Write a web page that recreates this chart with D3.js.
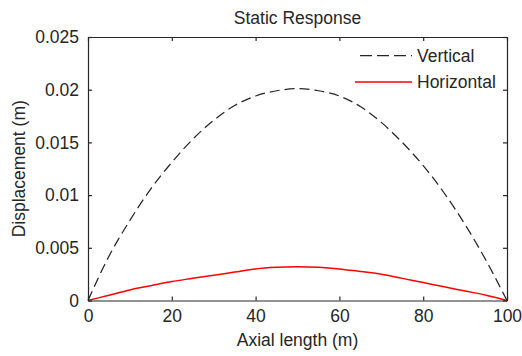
<!DOCTYPE html>
<html>
<head>
<meta charset="utf-8">
<script src="https://cdn.jsdelivr.net/npm/d3@7"></script>
<style>
  html, body { margin: 0; padding: 0; background: #fff; }
  svg { display: block; }
  text { font-family: "Liberation Sans", Arial, sans-serif; fill: #262626; }
</style>
</head>
<body>
<svg id="chart" width="522" height="356"></svg>
<script>
// ---- data ----
const axialLength = [0, 5, 10, 15, 20, 25, 30, 35, 40, 45, 50, 55, 60, 65, 70, 75, 80, 85, 90, 95, 100];
const verticalDisp = [0, 0.0042, 0.0076, 0.0106, 0.0131, 0.0153, 0.0171, 0.0185, 0.0194, 0.0199, 0.0201,
                      0.0199, 0.0194, 0.0184, 0.0169, 0.0150, 0.0128, 0.0102, 0.0072, 0.0038, 0];
const horizontalDisp = [0, 0.0005, 0.0010, 0.0014, 0.0018, 0.0021, 0.0024, 0.0027, 0.0030, 0.00315, 0.0032,
                        0.00315, 0.0030, 0.00275, 0.0025, 0.0021, 0.0017, 0.0013, 0.0009, 0.0005, 0];
const xTicks = [0, 20, 40, 60, 80, 100];
const yTicks = [0, 0.005, 0.01, 0.015, 0.02, 0.025];
const yTickLabels = ["0", "0.005", "0.01", "0.015", "0.02", "0.025"];
const seriesNames = ["Vertical", "Horizontal"];
const titleText = "Static Response";
const xLabel = "Axial length (m)";
const yLabel = "Displacement (m)";

// ---- layout ----
const mLeft = 88, mRight = 507, mTop = 37, mBottom = 300.5;
const svg = d3.select("#chart");
const x = d3.scaleLinear().domain([0, 100]).range([mLeft, mRight]);
const y = d3.scaleLinear().domain([0, 0.025]).range([mBottom, mTop]);
const axisColor = "#262626";
const fs = 17.5;

// series lines
const series = [
  { name: seriesNames[0], values: verticalDisp, color: "#262626", dash: "10,5", width: 1.25 },
  { name: seriesNames[1], values: horizontalDisp, color: "#ff0000", dash: null, width: 1.5 }
];
const line = d3.line().x(d => x(d[0])).y(d => y(d[1])).curve(d3.curveMonotoneX);
series.forEach(s => {
  svg.append("path")
    .datum(axialLength.map((v, i) => [v, s.values[i]]))
    .attr("d", line)
    .attr("fill", "none")
    .attr("stroke", s.color)
    .attr("stroke-width", s.width)
    .attr("stroke-dasharray", s.dash);
});

// axes (box with inward ticks on all sides)
const tickLen = 4;
const gB = svg.append("g").attr("transform", `translate(0,${mBottom})`)
  .call(d3.axisBottom(x).tickValues(xTicks).tickSizeInner(-tickLen).tickSizeOuter(0).tickPadding(9));
const gT = svg.append("g").attr("transform", `translate(0,${mTop})`)
  .call(d3.axisTop(x).tickValues(xTicks).tickSizeInner(-tickLen).tickSizeOuter(0).tickFormat(""));
const gL = svg.append("g").attr("transform", `translate(${mLeft},0)`)
  .call(d3.axisLeft(y).tickValues(yTicks).tickSizeInner(-tickLen).tickSizeOuter(0).tickPadding(9)
    .tickFormat((d, i) => yTickLabels[i]));
const gR = svg.append("g").attr("transform", `translate(${mRight},0)`)
  .call(d3.axisRight(y).tickValues(yTicks).tickSizeInner(-tickLen).tickSizeOuter(0).tickFormat(""));
[gB, gT, gL, gR].forEach(g => {
  g.select(".domain").attr("stroke", axisColor).attr("stroke-width", 1.2);
  g.selectAll(".tick line").attr("stroke", axisColor).attr("stroke-width", 1.2);
  g.selectAll("text").attr("font-family", "Liberation Sans, Arial, sans-serif")
    .attr("font-size", fs).attr("fill", axisColor);
});

// title and axis labels
svg.append("text").attr("x", (mLeft + mRight) / 2).attr("y", 24)
  .attr("text-anchor", "middle").attr("font-size", fs).text(titleText);
svg.append("text").attr("x", (mLeft + mRight) / 2).attr("y", 346)
  .attr("text-anchor", "middle").attr("font-size", fs).text(xLabel);
svg.append("text").attr("transform", `translate(25,${(mTop + mBottom) / 2}) rotate(-90)`)
  .attr("text-anchor", "middle").attr("font-size", fs).text(yLabel);

// legend (no box)
const legendY = [55.5, 82];
series.forEach((s, i) => {
  svg.append("line")
    .attr("x1", 355).attr("x2", 412).attr("y1", legendY[i]).attr("y2", legendY[i])
    .attr("stroke", s.color).attr("stroke-width", s.width)
    .attr("stroke-dasharray", s.dash ? "12,5" : null)
    .attr("stroke-dashoffset", s.dash ? 12 : null);
  svg.append("text").attr("x", 417).attr("y", legendY[i]).attr("dy", "0.36em")
    .attr("font-size", fs).text(s.name);
});
</script>
</body>
</html>
